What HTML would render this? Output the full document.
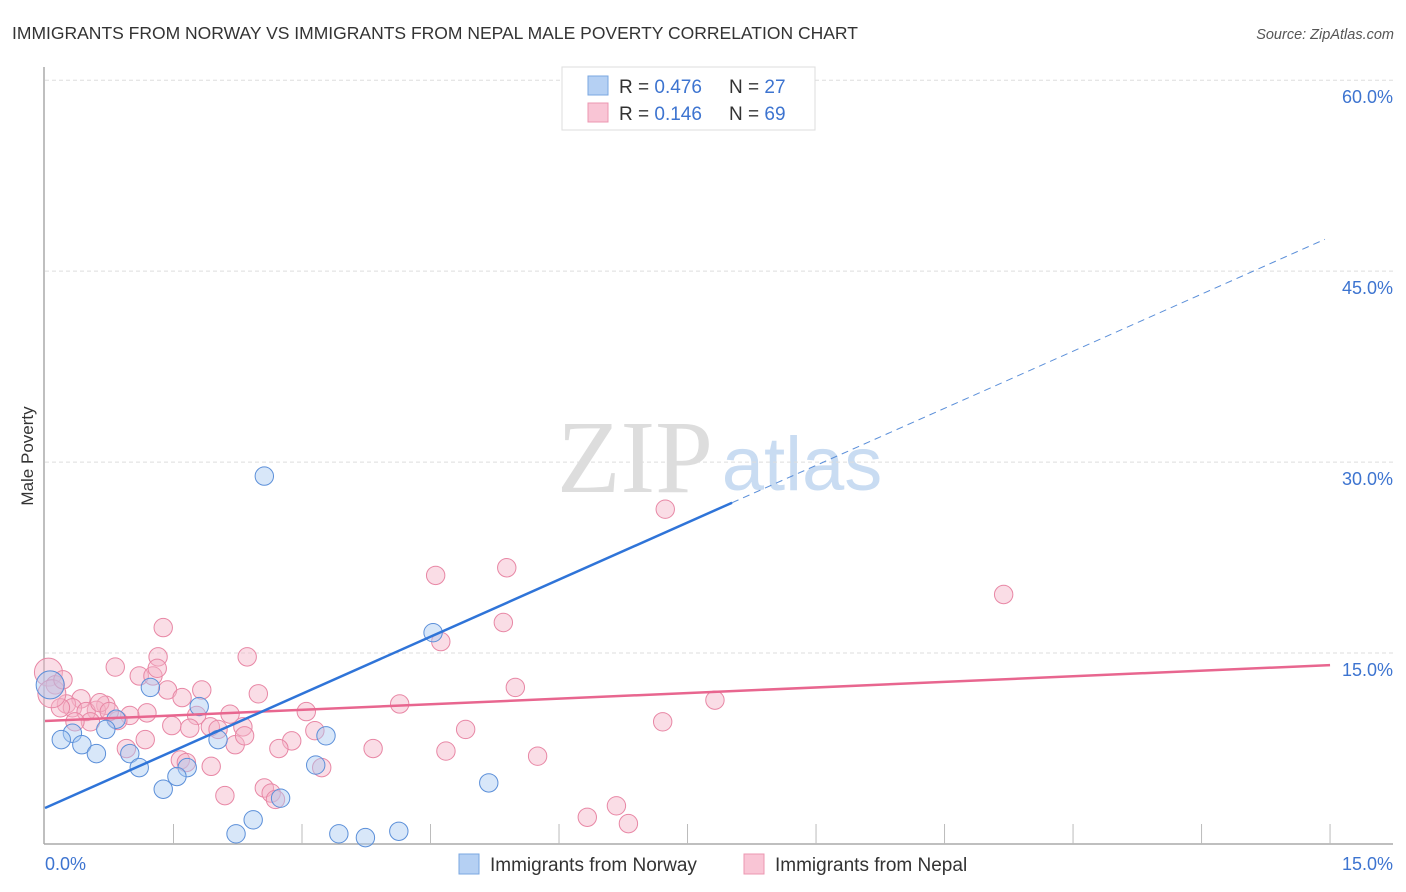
<!DOCTYPE html>
<html><head><meta charset="utf-8"><style>
body{margin:0;background:#fff;font-family:"Liberation Sans",sans-serif}
svg{display:block}
</style></head><body>
<svg id="chart" width="1406" height="892">
<text x="12" y="39" font-size="17.5" fill="#333">IMMIGRANTS FROM NORWAY VS IMMIGRANTS FROM NEPAL MALE POVERTY CORRELATION CHART</text>
<text x="1394" y="39" font-size="14.5" fill="#555" font-style="italic" text-anchor="end">Source: ZipAtlas.com</text>
<text x="33" y="456" font-size="17" fill="#333" text-anchor="middle" transform="rotate(-90 33 456)">Male Poverty</text>
<g><text x="635" y="492" font-size="104" fill="#ddd" font-family="Liberation Serif,serif" text-anchor="middle">ZIP</text><text x="802" y="490" font-size="76" fill="#c9dcf2" text-anchor="middle">atlas</text></g>
<g id="grid"></g><g id="axes"></g><g id="marks"></g>
<g>
<rect x="562" y="67" width="253" height="63" fill="#fff" stroke="#ddd"/>
<rect x="588" y="76" width="20" height="19" fill="#b5d0f3" stroke="#7aa7e0"/>
<rect x="588" y="103" width="20" height="19" fill="#f9c5d5" stroke="#ec97b1"/>
<text x="619" y="93" font-size="19" fill="#333">R = <tspan fill="#3d74d0">0.476</tspan></text>
<text x="729" y="93" font-size="19" fill="#333">N = <tspan fill="#3d74d0">27</tspan></text>
<text x="619" y="120" font-size="19" fill="#333">R = <tspan fill="#3d74d0"> 0.146</tspan></text>
<text x="729" y="120" font-size="19" fill="#333">N = <tspan fill="#3d74d0">69</tspan></text>
</g>
<g>
<rect x="459" y="854" width="20" height="20" fill="#b5d0f3" stroke="#7aa7e0"/>
<text x="490" y="871" font-size="19" fill="#333">Immigrants from Norway</text>
<rect x="744" y="854" width="20" height="20" fill="#f9c5d5" stroke="#ec97b1"/>
<text x="775" y="871" font-size="19" fill="#333">Immigrants from Nepal</text>
</g>
</svg>
<script>
const yTicks=[15,30,45,60];
const xTickLabels=["0.0%","15.0%"];
const norwayX=[8.15,2.56,4.53,5.18,1.23,1.80,0.83,0.71,0.32,0.19,0.43,0.60,0.99,1.10,2.02,3.28,3.16,1.66,1.54,1.38,2.75,2.43,2.23,3.43,3.74,4.13,0.06];
const norwayY=[58.1,28.9,16.6,4.8,12.3,10.8,9.8,9.0,8.7,8.2,7.8,7.1,7.1,6.0,8.2,8.5,6.2,6.0,5.3,4.3,3.6,1.9,0.8,0.8,0.5,1.0,12.5];
const nepalX=[7.24,11.19,4.56,5.39,5.35,4.62,1.38,1.32,2.36,0.82,1.10,1.26,1.43,1.60,1.83,2.49,5.49,4.14,7.82,7.21,3.05,2.16,1.77,1.19,0.99,0.71,0.60,0.42,0.25,0.32,0.18,0.04,0.12,0.48,0.85,1.48,1.69,1.93,2.02,2.31,3.15,4.91,1.17,0.95,2.22,2.33,2.88,2.73,3.83,4.68,5.75,1.58,1.65,1.94,3.23,2.10,2.56,2.64,2.69,6.67,6.33,6.81,0.64,1.31,0.75,0.08,0.21,0.53,0.35];
const nepalY=[26.3,19.6,21.1,21.7,17.4,15.9,17.0,14.7,14.7,13.9,13.2,13.2,12.1,11.5,12.1,11.8,12.3,11.0,11.3,9.6,10.4,10.2,10.1,10.3,10.1,10.9,10.5,11.4,11.0,10.7,10.7,13.5,12.5,10.4,9.7,9.3,9.1,9.2,9.0,9.2,8.9,9.0,8.2,7.5,7.8,8.5,8.1,7.5,7.5,7.3,6.9,6.6,6.4,6.1,6.0,3.8,4.4,4.0,3.5,3.0,2.1,1.6,11.1,13.8,10.4,11.8,12.9,9.6,9.6];
const norwayFit=[2.83,2.99]; // intercept, slope
const nepalFit=[9.66,0.293];
const X=v=>45+v*85.67, Y=v=>844-v*12.73;
const NS="http://www.w3.org/2000/svg";
function mk(p,t,a){const e=document.createElementNS(NS,t);for(const k in a)e.setAttribute(k,a[k]);p.appendChild(e);return e;}
const grid=document.getElementById('grid'),axes=document.getElementById('axes'),marks=document.getElementById('marks');
yTicks.forEach(t=>{
 const l=mk(grid,'line',{x1:45,x2:1393,y1:Y(t),y2:Y(t),stroke:'#ddd','stroke-dasharray':'4,3'});
 
 
 const tx=mk(grid,'text',{x:1393,y:Y(t)+23,'font-size':18,fill:'#3d74d0','text-anchor':'end'});
 tx.textContent=t.toFixed(1)+'%';
 
 
});
const ya=mk(axes,'line',{x1:44,x2:44,y1:67,y2:844,stroke:'#aaa','stroke-width':1.5});


const xa=mk(axes,'line',{x1:44,x2:1393,y1:844,y2:844,stroke:'#aaa','stroke-width':1.5});


for(let i=1;i<=10;i++){const t=mk(axes,'line',{x1:X(i*1.5),x2:X(i*1.5),y1:824,y2:844,stroke:'#bbb'});
 
 }
[[0,'start',45],[15,'end',1393]].forEach((d,i)=>{const t=mk(axes,'text',{x:d[2],y:870,'font-size':18,fill:'#3d74d0','text-anchor':d[1]});t.textContent=xTickLabels[i];
 
 });
function dots(xs,ys,fill,stroke,name){xs.forEach((x,i)=>{const c=mk(marks,'circle',{cx:X(x),cy:Y(ys[i]),r:(x<0.1?14:9.2),fill:fill,'fill-opacity':0.45,stroke:stroke,'stroke-width':1});
 
 });}
dots(nepalX,nepalY,'#f5b3c7','#e887a5','nepal-point');
dots(norwayX,norwayY,'#a9c9f1','#5b8fd9','norway-point');
const l1=mk(marks,'line',{x1:X(0),y1:Y(nepalFit[0]),x2:X(15),y2:Y(nepalFit[0]+15*nepalFit[1]),stroke:'#e8668f','stroke-width':2.5});


const l2=mk(marks,'line',{x1:X(0),y1:Y(norwayFit[0]),x2:X(8.02),y2:Y(norwayFit[0]+8.02*norwayFit[1]),stroke:'#2f74d8','stroke-width':2.5});


const l3=mk(marks,'line',{x1:X(8.02),y1:Y(norwayFit[0]+8.02*norwayFit[1]),x2:X(14.94),y2:Y(norwayFit[0]+14.94*norwayFit[1]),stroke:'#5b8fd9','stroke-width':1,'stroke-dasharray':'7,5'});


</script>
</body></html>
